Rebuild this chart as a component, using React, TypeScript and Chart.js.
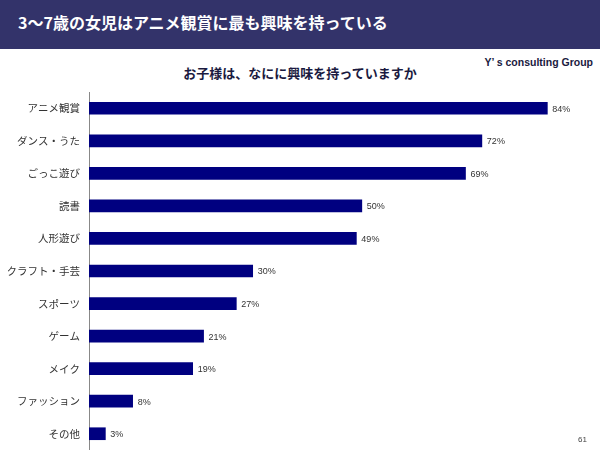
import React, { useEffect, useRef } from "react";
import { Chart, registerables } from "chart.js";

Chart.register(...registerables);

const pageTitle = "3〜7歳の女児はアニメ観賞に最も興味を持っている";
const chartTitle = "お子様は、なにに興味を持っていますか";
const sourceText = "Y’ s consulting Group";
const pageNumber = "61";

const categories = [
  "アニメ観賞",
  "ダンス・うた",
  "ごっこ遊び",
  "読書",
  "人形遊び",
  "クラフト・手芸",
  "スポーツ",
  "ゲーム",
  "メイク",
  "ファッション",
  "その他",
];
const values = [84, 72, 69, 50, 49, 30, 27, 21, 19, 8, 3];

const valueLabelPlugin = {
  id: "valueLabels",
  afterDatasetsDraw(chart: any) {
    const ctx = chart.ctx;
    const meta = chart.getDatasetMeta(0);
    ctx.save();
    ctx.font = "9px 'Liberation Sans', Arial, sans-serif";
    ctx.fillStyle = "#333333";
    ctx.textAlign = "left";
    ctx.textBaseline = "middle";
    meta.data.forEach((bar: any, i: number) => {
      const v = chart.data.datasets[0].data[i];
      ctx.fillText(v + "%", bar.x + 5, bar.y + 1);
    });
    ctx.restore();
  },
};

export default function App() {
  const canvasRef = useRef<HTMLCanvasElement | null>(null);

  useEffect(() => {
    if (!canvasRef.current) return;
    const chart = new Chart(canvasRef.current, {
      type: "bar",
      data: {
        labels: categories,
        datasets: [
          {
            data: values,
            backgroundColor: "#000080",
            barThickness: 12,
          },
        ],
      },
      options: {
        indexAxis: "y",
        animation: false,
        responsive: false,
        maintainAspectRatio: false,
        layout: { padding: { left: 8, right: 9, top: 92, bottom: 0 } },
        plugins: {
          legend: { display: false },
          tooltip: { enabled: false },
          title: { display: false },
        },
        scales: {
          x: {
            display: false,
            min: 0,
            max: 92,
          },
          y: {
            afterFit: (axis: any) => {
              axis.width = 81;
              axis.paddingTop = 0;
              axis.paddingBottom = 0;
            },
            grid: { display: false, drawTicks: false },
            border: { display: true, color: "#888888", width: 1 },
            ticks: {
              padding: 9,
              color: "#333333",
              font: { size: 10.5, family: "'Noto Sans CJK JP', sans-serif" },
            },
          },
        },
      },
      plugins: [valueLabelPlugin],
    });
    return () => chart.destroy();
  }, []);

  return (
    <div
      style={{
        position: "absolute",
        left: 0,
        top: 0,
        width: 600,
        height: 450,
        background: "#ffffff",
        overflow: "hidden",
      }}
    >
      <div
        style={{
          position: "absolute",
          left: 0,
          top: 0,
          width: 600,
          height: 49,
          background: "#33336a",
        }}
      />
      <div
        style={{
          position: "absolute",
          left: 18,
          top: 12,
          color: "#ffffff",
          fontFamily: "'Noto Sans CJK JP', sans-serif",
          fontWeight: "bold",
          fontSize: 16,
          lineHeight: "20px",
          whiteSpace: "nowrap",
        }}
      >
        {pageTitle}
      </div>
      <div
        style={{
          position: "absolute",
          right: 7,
          top: 55,
          color: "#1a1a40",
          fontFamily: "'Liberation Sans', Arial, sans-serif",
          fontWeight: "bold",
          fontSize: 10.5,
          lineHeight: "14px",
          whiteSpace: "nowrap",
        }}
      >
        {sourceText}
      </div>
      <div
        style={{
          position: "absolute",
          left: 0,
          width: 600,
          top: 64,
          textAlign: "center",
          color: "#1a1a40",
          fontFamily: "'Noto Sans CJK JP', sans-serif",
          fontWeight: "bold",
          fontSize: 13,
          lineHeight: "18px",
          whiteSpace: "nowrap",
        }}
      >
        {chartTitle}
      </div>
      <canvas
        ref={canvasRef}
        width={600}
        height={450}
        style={{ position: "absolute", left: 0, top: 0, width: 600, height: 450 }}
      />
      <div
        style={{
          position: "absolute",
          left: 578,
          top: 435,
          color: "#444444",
          fontFamily: "'Liberation Sans', Arial, sans-serif",
          fontSize: 8,
          lineHeight: "10px",
        }}
      >
        {pageNumber}
      </div>
    </div>
  );
}
